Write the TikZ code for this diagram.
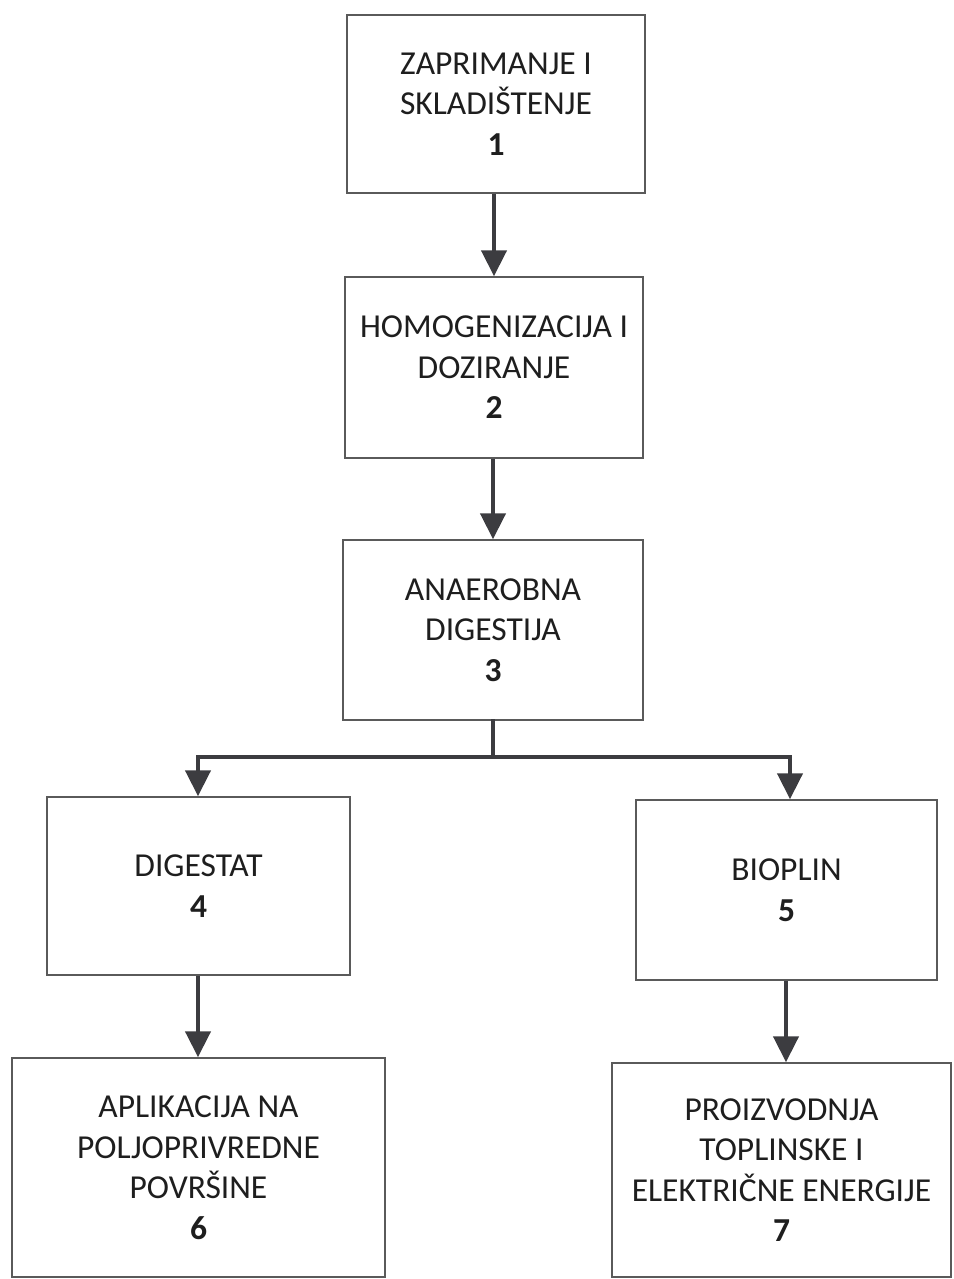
\documentclass[tikz,border=0pt]{standalone}
\usepackage{fontspec}
\setmainfont{Carlito}
\usetikzlibrary{arrows.meta}
\definecolor{boxline}{HTML}{5A5A5A}
\definecolor{arrowcol}{HTML}{3C3C40}
\definecolor{txt}{HTML}{1E1E1E}
\tikzset{
  procbox/.style={draw=boxline, line width=1.5pt, fill=white, inner sep=0pt,
    align=center, text=txt, font=\fontsize{33.5}{40.5}\selectfont},
  flow/.style={draw=arrowcol, line width=4.5pt,
    -{Triangle[length=26pt,width=25pt]}},
  flowline/.style={draw=arrowcol, line width=4.5pt}
}
\begin{document}
\begin{tikzpicture}[x=1pt,y=-1pt]
\useasboundingbox (0,0) rectangle (953,1279);
\node[procbox, minimum width=298pt, minimum height=178pt] (b1) at (496,104)
  {ZAPRIMANJE I\\SKLADIŠTENJE\\\textbf{1}};
\node[procbox, minimum width=298pt, minimum height=181pt] (b2) at (494,367.5)
  {HOMOGENIZACIJA I\\DOZIRANJE\\\textbf{2}};
\node[procbox, minimum width=300pt, minimum height=180pt] (b3) at (493,630)
  {ANAEROBNA\\DIGESTIJA\\\textbf{3}};
\node[procbox, minimum width=303pt, minimum height=178pt] (b4) at (198.5,886)
  {DIGESTAT\\\textbf{4}};
\node[procbox, minimum width=301pt, minimum height=180pt] (b5) at (786.5,890)
  {BIOPLIN\\\textbf{5}};
\node[procbox, minimum width=373pt, minimum height=219pt] (b6) at (198.5,1167.5)
  {APLIKACIJA NA\\POLJOPRIVREDNE\\POVRŠINE\\\textbf{6}};
\node[procbox, minimum width=339pt, minimum height=214pt] (b7) at (781.5,1170)
  {PROIZVODNJA\\TOPLINSKE I\\ELEKTRIČNE ENERGIJE\\\textbf{7}};
\coordinate (j) at (b3.south |- 0,757);
\coordinate (jl) at (198,757);
\coordinate (jr) at (790,757);
\draw[flow] (b1.south -| 494,0) -- (b2.north -| 494,0);
\draw[flow] (b2.south -| 493,0) -- (b3.north -| 493,0);
\draw[flowline, line cap=rect] (b3.south) -- (j);
\draw[flow] (j) -| (jl) -- (b4.north -| jl);
\draw[flow] (j) -| (jr) -- (b5.north -| jr);
\draw[flow] (b4.south -| 198,0) -- (b6.north -| 198,0);
\draw[flow] (b5.south -| 786,0) -- (b7.north -| 786,0);
\end{tikzpicture}
\end{document}
